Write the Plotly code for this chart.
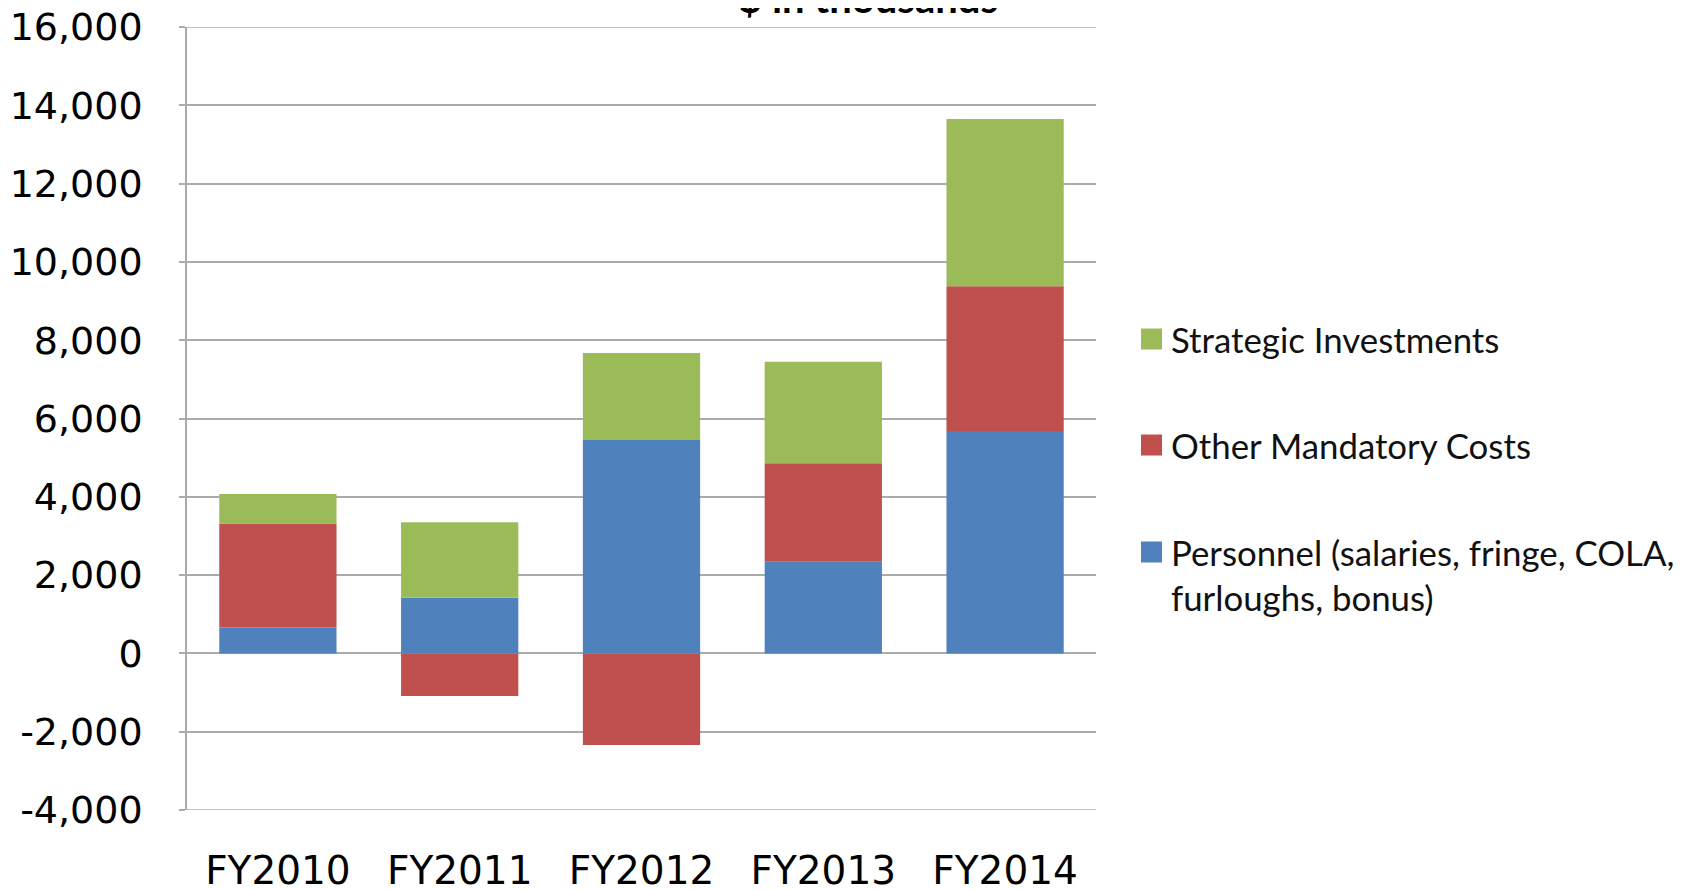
import plotly.graph_objects as go

categories = ["FY2010", "FY2011", "FY2012", "FY2013", "FY2014"]
personnel = [660, 1420, 5450, 2340, 5680]
other_mandatory = [2660, -1090, -2340, 2520, 3700]
strategic = [750, 1930, 2220, 2590, 4270]

series_names = ["Personnel (salaries, fringe, COLA,<br>furloughs, bonus)",
                "Other Mandatory Costs",
                "Strategic Investments"]
series_values = [personnel, other_mandatory, strategic]
series_colors = ["#4F81BD", "#C0504D", "#9BBB59"]

y_min, y_max = -4000, 16000
y_ticks = list(range(y_min, y_max + 1, 2000))
y_ticktext = [f"{v:,}" for v in y_ticks]

OFF = 8  # page body margin
W, H = 1687 - OFF, 890
L, R, T, B = 187 - OFF, 1096 - OFF, 27 - OFF, 810 - OFF
GRID = "#ABABAB"

fig = go.Figure()
for name, vals, col in zip(series_names, series_values, series_colors):
    fig.add_trace(go.Bar(x=categories, y=vals, name=name,
                         marker=dict(color=col, line=dict(width=0)),
                         showlegend=False))

def px_x(p):
    return (p - OFF - L) / (R - L)

def px_y(p):
    return (B - (p - OFF)) / (B - T)

# gridlines at the range edges
for yv in (y_min, y_max):
    fig.add_shape(type="line", xref="paper", yref="y", x0=0, x1=1, y0=yv, y1=yv,
                  line=dict(color=GRID, width=1.5), layer="below")

# manual legend (top to bottom: Strategic, Other, Personnel)
legend_rows = [(2, 339), (1, 445), (0, 552)]
for idx, cy in legend_rows:
    fig.add_shape(type="rect", xref="paper", yref="paper",
                  x0=px_x(1141), x1=px_x(1162), y0=px_y(cy + 10.5), y1=px_y(cy - 10.5),
                  fillcolor=series_colors[idx], line=dict(width=0))
    fig.add_annotation(xref="paper", yref="paper", x=px_x(1169), y=px_y(cy - 22),
                       xanchor="left", yanchor="top", align="left",
                       text=series_names[idx], showarrow=False,
                       font=dict(family="Lato", size=34.8, color="#111111"))

fig.add_annotation(xref="paper", yref="paper", x=px_x(868), y=px_y(24),
                   xanchor="center", yanchor="bottom", text="<b>$ in thousands</b>",
                   showarrow=False, font=dict(family="Lato", size=40, color="#000000"))

fig.update_layout(
    width=W, height=H,
    margin=dict(l=L, r=W - R, t=T, b=H - B, pad=0, autoexpand=False),
    barmode="relative",
    bargap=0.355,
    plot_bgcolor="white", paper_bgcolor="white",
    font=dict(family="DejaVu Sans", size=38, color="#000000"),
)
fig.update_xaxes(showgrid=False, showline=False, ticks="", automargin=False,
                 ticklabeloverflow="allow",
                 ticklabelstandoff=34, tickfont=dict(family="DejaVu Sans", size=39))
fig.update_yaxes(range=[y_min, y_max], tickvals=y_ticks, ticktext=y_ticktext,
                 automargin=False, ticklabeloverflow="allow",
                 showgrid=True, gridcolor=GRID, gridwidth=1.5,
                 zeroline=True, zerolinecolor=GRID, zerolinewidth=1.5,
                 showline=True, linecolor=GRID, linewidth=1.5,
                 ticks="outside", ticklen=6, tickcolor=GRID, tickwidth=1.5,
                 ticklabelstandoff=29, tickfont=dict(family="DejaVu Sans", size=38))

fig.write_html("out.html")
